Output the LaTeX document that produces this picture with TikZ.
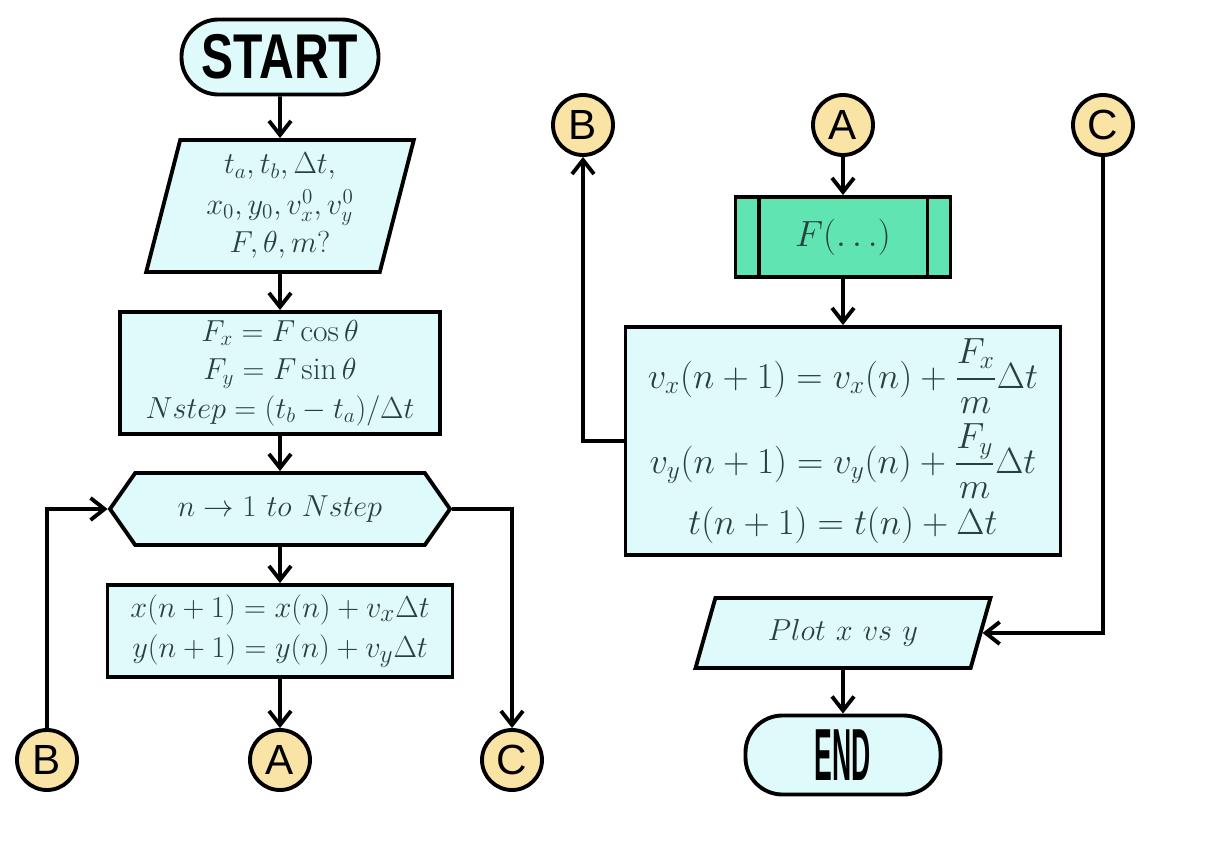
\documentclass[tikz,border=0pt]{standalone}
\usepackage{fontspec}
\usepackage{amsmath}
\usetikzlibrary{shapes.geometric,shapes.symbols,arrows.meta}
\newfontfamily\labelfont{Liberation Sans}
\definecolor{boxfill}{RGB}{223,250,250}
\definecolor{subfill}{RGB}{96,228,178}
\definecolor{confill}{RGB}{250,228,165}
\definecolor{ink}{RGB}{40,64,64}

\begin{document}
\begin{tikzpicture}[line width=2.2pt,
  every node/.style={font=\fontsize{18}{22}\selectfont, text=ink, align=center},
  term/.style={draw, fill=boxfill, rounded corners=0.74cm, text=black,
    font=\labelfont\bfseries\fontsize{36}{36}\selectfont},
  io/.style={draw, fill=boxfill, trapezium, trapezium stretches=true,
    trapezium left angle=77, trapezium right angle=103},
  proc/.style={draw, fill=boxfill, rectangle},
  loopbox/.style={draw, fill=boxfill, signal, signal to=east and west,
    signal pointer angle=110},
  sub/.style={draw, fill=subfill, rectangle},
  con/.style={draw, fill=confill, circle, minimum size=1.2cm, inner sep=0pt,
    text=black, font=\labelfont\fontsize{24}{24}\selectfont},
  flow/.style={-{Straight Barb[length=2.8mm,width=4.4mm]}}]
  \useasboundingbox (0,0) rectangle (24.44,-17);

  % left column
  \node[term, minimum width=3.94cm, minimum height=1.5cm] (start) at (5.6,-1.14)
    {\scalebox{0.76}[1]{START}};
  \node[io, minimum width=5.36cm, minimum height=2.64cm,
    font=\fontsize{18.5}{21}\selectfont] (in) at (5.6,-4.12)
    {$t_a, t_b, \Delta t,$\\[2pt] $x_0, y_0, v_x^0, v_y^0$\\[1pt] $F, \theta, m?$};
  \node[proc, minimum width=6.4cm, minimum height=2.44cm] (force) at (5.6,-7.46)
    {$F_x = F\cos\theta$\\ $F_y = F\sin\theta$\\ $Nstep = (t_b - t_a)/\Delta t$};
  \node[loopbox, minimum width=6.8cm, minimum height=1.44cm,
    font=\fontsize{19}{22}\selectfont] (loop) at (5.6,-10.18)
    {$n \rightarrow 1\ to\ Nstep$};
  \node[proc, minimum width=6.9cm, minimum height=1.84cm,
    font=\fontsize{19}{23}\selectfont] (pos) at (5.6,-12.62)
    {$x(n+1) = x(n) + v_x\Delta t$\\ $y(n+1) = y(n) + v_y\Delta t$};

  % connectors, left
  \node[con] (b1) at (0.94,-15.2) {B};
  \node[con] (a1) at (5.6,-15.2) {A};
  \node[con] (c1) at (10.24,-15.2) {C};

  % right column
  \node[con] (b2) at (11.66,-2.5) {B};
  \node[con] (a2) at (16.86,-2.5) {A};
  \node[con] (c2) at (22.06,-2.5) {C};
  \node[sub, minimum width=4.3cm, minimum height=1.6cm,
    font=\fontsize{20}{22}\selectfont] (func) at (16.86,-4.74)
    {$F(\ldots)$};
  \draw ([xshift=0.5cm]func.north west) -- ([xshift=0.5cm]func.south west);
  \draw ([xshift=-0.5cm]func.north east) -- ([xshift=-0.5cm]func.south east);
  \node[proc, minimum width=8.7cm, minimum height=4.56cm,
    font=\fontsize{20}{22}\selectfont] (vel) at (16.86,-8.82)
    {$v_x(n+1) = v_x(n) + \dfrac{F_x}{m}\Delta t$\\[5pt]
     $v_y(n+1) = v_y(n) + \dfrac{F_y}{m}\Delta t$\\[4pt]
     $t(n+1) = t(n) + \Delta t$};
  \node[io, trapezium left angle=72, trapezium right angle=108,
    minimum width=5.9cm, minimum height=1.4cm,
    font=\fontsize{19}{22}\selectfont] (plot) at (16.86,-12.66)
    {$Plot\ x\ vs\ y$};
  \node[term, minimum width=3.9cm, minimum height=1.58cm] (end) at (16.86,-15.1)
    {\scalebox{0.36}[1]{\fontsize{42}{42}\selectfont END}};

  % flow
  \draw[flow] (start) -- (in);
  \draw[flow] (in) -- (force);
  \draw[flow] (force) -- (loop);
  \draw[flow] (loop) -- (pos);
  \draw[flow] (pos) -- (a1);
  \draw[flow] (b1) |- (loop.west);
  \draw[flow] (loop.east) -| (c1);
  \draw[flow] (a2) -- (func);
  \draw[flow] (func) -- (vel);
  \draw[flow] (vel.west) -| (b2);
  \draw[flow] (c2) |- (plot.east);
  \draw[flow] (plot) -- (end);
\end{tikzpicture}
\end{document}
